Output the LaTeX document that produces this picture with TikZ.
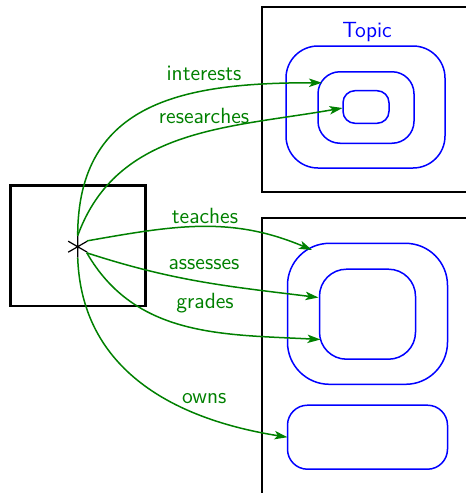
\documentclass[tikz,border=0pt]{standalone}
\usetikzlibrary{arrows.meta}
\definecolor{arrgreen}{RGB}{0,128,0}
\begin{document}
\begin{tikzpicture}[x=0.5pt,y=0.5pt,
  every node/.style={font=\sffamily\fontsize{11}{13}\selectfont},
  blackbox/.style={draw=black,line width=1.1pt,inner sep=0pt,outer sep=0pt},
  bluebox/.style={draw=blue,line width=0.75pt,inner sep=0pt,outer sep=0pt},
  rel/.style={draw=arrgreen,line width=0.75pt,-{Stealth[length=6.5pt,width=4.2pt,inset=1.6pt]}},
  rellabel/.style={text=arrgreen,inner sep=1pt}]
\useasboundingbox (0,0) rectangle (466,-493);
% containers
\node[blackbox,minimum width=67.5pt,minimum height=60.25pt] (person) at (78,-245.75) {};
\node[blackbox,minimum width=109pt,minimum height=92.5pt] (topicbox) at (371,-99.5) {};
\node[blackbox,minimum width=109pt,minimum height=146pt] (coursebox) at (371,-364) {};
% topic sets
\node[text=blue] (topic) at (367,-32) {Topic};
\node[bluebox,rounded corners=16pt,minimum width=79.5pt,minimum height=61pt] (tout) at (365.5,-107) {};
\node[bluebox,rounded corners=11pt,minimum width=48pt,minimum height=35.75pt] (tmid) at (366,-107.5) {};
\node[bluebox,rounded corners=6pt,minimum width=23pt,minimum height=16.3pt] (tin) at (366,-107) {};
% lower sets
\node[bluebox,rounded corners=21pt,minimum width=80pt,minimum height=70.5pt] (bout) at (367.5,-313.8) {};
\node[bluebox,rounded corners=13.5pt,minimum width=48pt,minimum height=45pt] (bmid) at (367.5,-314.2) {};
\node[bluebox,rounded corners=10pt,minimum width=80pt,minimum height=32pt] (brect) at (367.5,-437.2) {};
% source asterisk
\node[circle,minimum size=11pt,inner sep=0pt,outer sep=0pt] (src) at (77.7,-246.7) {};
\draw[line width=0.6pt] (src.90) -- (src.270) (src.30) -- (src.210) (src.150) -- (src.330);
% relations
\draw[rel] (src.90) to[out=90,in=180,looseness=1.2] ([shift={(4,-11)}]tmid.north west);
\draw[rel] (src.90) to[out=70,in=190] ([shift={(-0.5,-1)}]tin.west);
\draw[rel] (src.32) to[out=10,in=157] ([shift={(24.5,-6.7)}]bout.north west);
\draw[rel] (src.-34) to[out=-18,in=173] ([shift={(-1,16.7)}]bmid.west);
\draw[rel] (src.-34) to[out=-60,in=177] ([shift={(1,-25.3)}]bmid.west);
\draw[rel] (src.270) to[out=-88,in=171,looseness=1.05] (brect.west);
% labels
\node[rellabel] (linterests) at (204,-73) {interests};
\node[rellabel] (lresearches) at (204,-116) {researches};
\node[rellabel] (lteaches) at (205,-215.7) {teaches};
\node[rellabel] (lassesses) at (204,-264.3) {assesses};
\node[rellabel] (lgrades) at (205,-303) {grades};
\node[rellabel] (lowns) at (204.3,-399) {owns};
\end{tikzpicture}
\end{document}
